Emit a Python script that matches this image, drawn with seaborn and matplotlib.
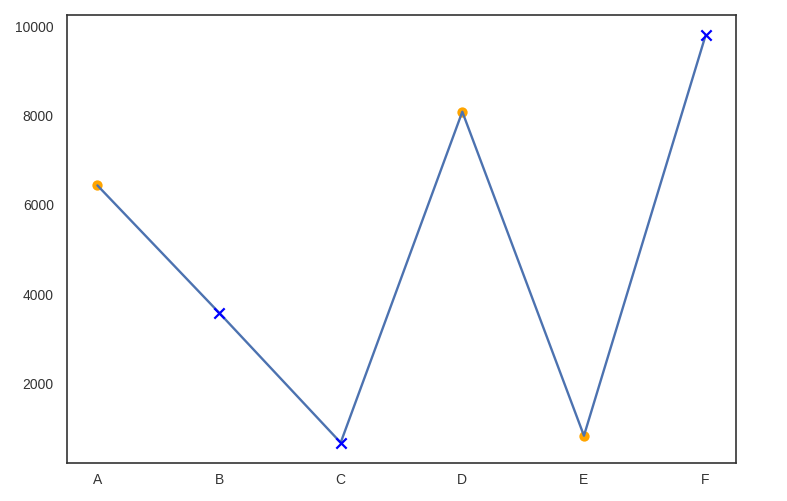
import matplotlib
matplotlib.use("Agg")
import matplotlib.pyplot as plt
import seaborn as sns

categories = ["A", "B", "C", "D", "E", "F"]
values = [6410, 3560, 650, 8060, 805, 9770]
kinds = ["o", "x", "x", "o", "o", "x"]

sns.set_style("white")
plt.rcParams["font.family"] = ["Liberation Sans", "DejaVu Sans"]

fig, ax = plt.subplots(figsize=(7.87, 5.02), dpi=100)
fig.subplots_adjust(left=67 / 787, right=736 / 787, top=1 - 16 / 502, bottom=1 - 464 / 502)

sns.lineplot(x=categories, y=values, color="#4C72B0", linewidth=1.7, ax=ax)

circ_x = [c for c, k in zip(categories, kinds) if k == "o"]
circ_y = [v for v, k in zip(values, kinds) if k == "o"]
cross_x = [c for c, k in zip(categories, kinds) if k == "x"]
cross_y = [v for v, k in zip(values, kinds) if k == "x"]

sns.scatterplot(x=circ_x, y=circ_y, marker="o", color="orange", s=55, linewidth=0, zorder=1, ax=ax)
sns.scatterplot(x=cross_x, y=cross_y, marker="x", color="blue", s=55, linewidth=1.6, zorder=3, ax=ax)

ax.tick_params(labelsize=10, colors="#333333")
ax.tick_params(axis="y", pad=6)
ax.tick_params(axis="x", pad=3)
for s in ax.spines.values():
    s.set_color("#333333")
    s.set_linewidth(1.2)

fig.savefig("out.png", dpi=100)
